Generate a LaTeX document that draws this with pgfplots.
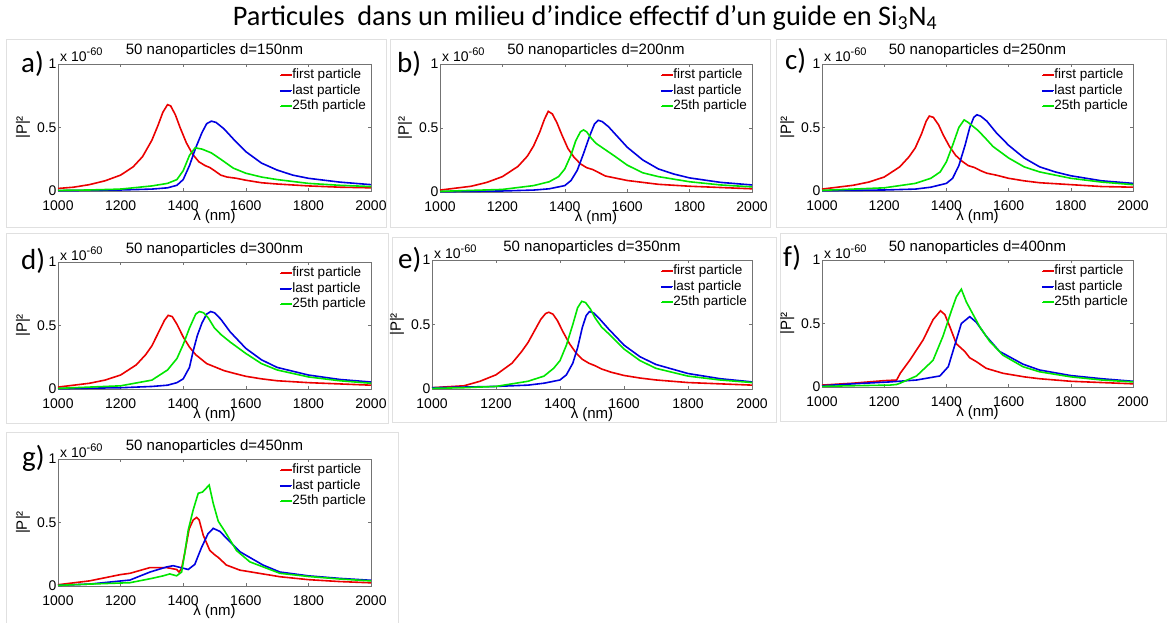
\documentclass[border=0pt]{standalone}
\usepackage{pgfplots}
\pgfplotsset{compat=1.18}
\usepackage{fontspec}
\setmainfont{Liberation Sans}
\newfontfamily\carlito{Carlito}
\definecolor{mred}{RGB}{235,0,0}
\definecolor{mblue}{RGB}{0,0,225}
\definecolor{mgreen}{RGB}{0,230,0}
\newcommand{\tf}{\fontsize{14}{14}\selectfont}
\newcommand{\lf}{\fontsize{13.5}{13.5}\selectfont}
\newcommand{\af}{\fontsize{15}{15}\selectfont}
\pgfplotsset{
 panel/.style={
  scale only axis, clip=false, anchor=north west,
  xmin=1000, xmax=2000, ymin=0, ymax=1,
  xtick={1000,1200,1400,1600,1800,2000},
  xticklabels={1000,1200,1400,1600,1800,2000},
  ytick={0,0.5,1}, yticklabels={0,0.5,1},
  /pgf/number format/assume math mode=true,
  tick align=inside, major tick length=3pt,
  axis line style={black!55, line width=0.5pt},
  tick style={black!55, line width=0.5pt},
  ticklabel style={font=\tf},
  xticklabel style={yshift=-6pt},
  yticklabel style={xshift=2pt},
  xlabel={λ (nm)},
  xlabel style={font=\af, at={(rel axis cs:0.5,0)}, anchor=center, yshift=-26pt},
  title style={font=\af, at={(rel axis cs:0.5,1)}, anchor=base, yshift=3pt},
  legend style={at={(rel axis cs:1,1)}, anchor=north east, xshift=-5pt, yshift=-5pt,
    draw=none, fill=none, font=\lf, inner sep=0pt, row sep=3pt,
    nodes={inner sep=0pt, text height=9.5pt, text depth=3pt}},
  legend cell align=left,
  legend image code/.code={\path (0pt,0pt) -- (11.5pt,0pt);},
 },
 ann/.style={
  extra description/.code={
   \node[anchor=base west, inner sep=0pt, font=\tf] at (rel axis cs:0,1) [xshift=2pt, yshift=2pt] {x 10\raisebox{6pt}{\fontsize{11}{11}\selectfont -60}};
  }
 },
 pr/.style={mred, line width=1.6pt},
 pb/.style={mblue, line width=1.6pt},
 pg/.style={mgreen, line width=1.6pt},
}
\newcommand{\ylab}[1]{\node[rotate=90, font=\af, inner sep=0pt] at (axis cs:#1,0.5) {|P|²};}
% legend keys, drawn at the legend's rows
\newcommand{\keys}{%
 \draw[mred, line width=1.6pt] ([xshift=-90pt,yshift=-11pt]rel axis cs:1,1) -- ++(11pt,0pt);
 \draw[mblue, line width=1.6pt] ([xshift=-90pt,yshift=-26.5pt]rel axis cs:1,1) -- ++(11pt,0pt);
 \draw[mgreen, line width=1.6pt] ([xshift=-90pt,yshift=-42pt]rel axis cs:1,1) -- ++(11pt,0pt);}
\begin{document}
\begin{tikzpicture}
\useasboundingbox (0pt,0pt) rectangle (1170pt,-623pt);
\fill[white] (0pt,0pt) rectangle (1170pt,-623pt);
% panel frames
\begin{scope}[draw=black!12, line width=0.8pt]
\draw (6pt,-39pt) rectangle (386pt,-227pt);
\draw (390pt,-39pt) rectangle (770pt,-227pt);
\draw (776pt,-39pt) rectangle (1166pt,-227pt);
\draw (6pt,-233pt) rectangle (388pt,-423pt);
\draw (392pt,-237pt) rectangle (776pt,-422pt);
\draw (780pt,-233pt) rectangle (1166pt,-421pt);
\draw (6pt,-432pt) rectangle (398pt,-623pt);
\end{scope}
\node[font=\carlito\fontsize{28.3}{28.3}\selectfont, anchor=center] at (585pt,-18pt) {Particules\ \ dans un milieu d’indice effectif d’un guide en Si\textsubscript{3}N\textsubscript{4}};
% panel letters
\begin{scope}[every node/.style={font=\carlito\fontsize{29}{29}\selectfont, anchor=base west, inner sep=0pt}]
\node at (21pt,-73pt) {a)};
\node at (397pt,-73pt) {b)};
\node at (785pt,-70pt) {c)};
\node at (21pt,-269pt) {d)};
\node at (398pt,-268pt) {e)};
\node at (783pt,-266pt) {f)};
\node at (22pt,-466pt) {g)};
\end{scope}

% ---------- a ----------
\begin{axis}[panel, ann, at={(58pt,-64pt)}, width=313pt, height=127pt, title={50 nanoparticles d=150nm}]
\addplot[pr] coordinates {(1000,0.02) (1050,0.03) (1100,0.05) (1150,0.08) (1200,0.125) (1240,0.19) (1270,0.27) (1300,0.4) (1320,0.52) (1335,0.62) (1350,0.68) (1360,0.67) (1375,0.6) (1390,0.5) (1410,0.38) (1430,0.29) (1450,0.23) (1470,0.2) (1485,0.185) (1500,0.16) (1520,0.125) (1540,0.11) (1570,0.1) (1600,0.085) (1650,0.065) (1700,0.055) (1800,0.04) (1900,0.03) (2000,0.025)};
\addplot[pb] coordinates {(1000,0.003) (1100,0.005) (1200,0.008) (1300,0.015) (1350,0.025) (1380,0.045) (1400,0.09) (1420,0.2) (1440,0.34) (1460,0.46) (1475,0.53) (1490,0.55) (1505,0.54) (1530,0.49) (1560,0.41) (1600,0.31) (1650,0.22) (1700,0.165) (1750,0.125) (1800,0.1) (1900,0.07) (2000,0.05)};
\addplot[pg] coordinates {(1000,0.005) (1100,0.008) (1200,0.015) (1300,0.04) (1350,0.06) (1380,0.09) (1400,0.16) (1420,0.28) (1438,0.34) (1460,0.33) (1490,0.3) (1520,0.25) (1560,0.18) (1600,0.14) (1650,0.11) (1700,0.09) (1800,0.06) (1900,0.045) (2000,0.035)};
\legend{first particle, last particle, 25th particle}
\keys
\ylab{888}
\end{axis}

% ---------- b ----------
\begin{axis}[panel, ann, at={(440pt,-64pt)}, width=312pt, height=128pt, title={50 nanoparticles d=200nm}]
\addplot[pr] coordinates {(1000,0.015) (1100,0.045) (1150,0.075) (1200,0.12) (1250,0.2) (1280,0.28) (1300,0.36) (1320,0.47) (1335,0.57) (1347,0.63) (1360,0.61) (1375,0.54) (1390,0.45) (1410,0.34) (1430,0.27) (1450,0.22) (1470,0.19) (1490,0.175) (1510,0.15) (1530,0.125) (1560,0.11) (1600,0.09) (1650,0.075) (1700,0.06) (1800,0.045) (1900,0.035) (2000,0.025)};
\addplot[pb] coordinates {(1000,0.003) (1200,0.008) (1300,0.015) (1350,0.025) (1400,0.05) (1420,0.09) (1440,0.17) (1460,0.3) (1480,0.44) (1495,0.53) (1507,0.56) (1520,0.55) (1540,0.51) (1570,0.43) (1600,0.35) (1650,0.25) (1700,0.18) (1750,0.14) (1800,0.11) (1900,0.075) (2000,0.055)};
\addplot[pg] coordinates {(1000,0.005) (1200,0.02) (1300,0.05) (1350,0.08) (1380,0.12) (1400,0.18) (1420,0.29) (1435,0.4) (1450,0.47) (1460,0.485) (1470,0.47) (1485,0.42) (1500,0.38) (1530,0.33) (1560,0.28) (1600,0.21) (1650,0.15) (1700,0.12) (1800,0.08) (1900,0.055) (2000,0.04)};
\legend{first particle, last particle, 25th particle}
\keys
\ylab{888}
\end{axis}

% ---------- c ----------
\begin{axis}[panel, ann, at={(822pt,-64pt)}, width=311pt, height=127pt, title={50 nanoparticles d=250nm}]
\addplot[pr] coordinates {(1000,0.015) (1100,0.045) (1150,0.07) (1200,0.11) (1250,0.19) (1280,0.27) (1300,0.34) (1320,0.45) (1335,0.55) (1345,0.59) (1358,0.58) (1375,0.52) (1390,0.44) (1410,0.35) (1430,0.28) (1450,0.235) (1470,0.2) (1490,0.185) (1510,0.16) (1530,0.14) (1560,0.125) (1600,0.1) (1650,0.08) (1700,0.065) (1800,0.05) (1900,0.035) (2000,0.03)};
\addplot[pb] coordinates {(1000,0.003) (1200,0.008) (1300,0.015) (1350,0.03) (1400,0.06) (1420,0.1) (1440,0.2) (1460,0.36) (1475,0.5) (1488,0.58) (1498,0.6) (1510,0.59) (1530,0.55) (1560,0.46) (1600,0.36) (1650,0.26) (1700,0.19) (1750,0.15) (1800,0.12) (1900,0.08) (2000,0.06)};
\addplot[pg] coordinates {(1000,0.005) (1200,0.025) (1300,0.06) (1350,0.1) (1380,0.15) (1400,0.23) (1420,0.36) (1440,0.5) (1457,0.56) (1470,0.54) (1485,0.51) (1500,0.48) (1520,0.43) (1550,0.35) (1600,0.26) (1650,0.19) (1700,0.15) (1800,0.1) (1900,0.07) (2000,0.05)};
\legend{first particle, last particle, 25th particle}
\keys
\ylab{888}
\end{axis}

% ---------- d ----------
\begin{axis}[panel, ann, at={(58pt,-262pt)}, width=313pt, height=127pt, title={50 nanoparticles d=300nm}]
\addplot[pr] coordinates {(1000,0.015) (1100,0.045) (1150,0.07) (1200,0.11) (1250,0.19) (1280,0.27) (1300,0.34) (1320,0.44) (1340,0.54) (1352,0.58) (1365,0.57) (1380,0.51) (1400,0.41) (1420,0.33) (1440,0.27) (1460,0.23) (1475,0.2) (1490,0.185) (1510,0.165) (1530,0.145) (1560,0.125) (1600,0.1) (1650,0.08) (1700,0.065) (1800,0.05) (1900,0.04) (2000,0.03)};
\addplot[pb] coordinates {(1000,0.003) (1200,0.01) (1300,0.02) (1350,0.03) (1380,0.05) (1400,0.08) (1420,0.17) (1432,0.3) (1445,0.42) (1460,0.52) (1475,0.59) (1488,0.61) (1500,0.6) (1520,0.55) (1550,0.45) (1600,0.32) (1650,0.23) (1700,0.17) (1800,0.11) (1900,0.075) (2000,0.055)};
\addplot[pg] coordinates {(1000,0.005) (1200,0.025) (1300,0.07) (1350,0.15) (1380,0.24) (1400,0.35) (1420,0.48) (1440,0.59) (1452,0.61) (1465,0.6) (1480,0.56) (1500,0.48) (1520,0.43) (1550,0.37) (1600,0.28) (1650,0.2) (1700,0.15) (1800,0.095) (1900,0.065) (2000,0.045)};
\legend{first particle, last particle, 25th particle}
\keys
\ylab{888}
\end{axis}

% ---------- e ----------
\begin{axis}[panel, ann, at={(432pt,-260pt)}, width=320pt, height=129pt, title={50 nanoparticles d=350nm}]
\addplot[pr] coordinates {(1000,0.01) (1100,0.025) (1150,0.06) (1200,0.11) (1250,0.2) (1280,0.29) (1300,0.36) (1320,0.45) (1340,0.54) (1355,0.585) (1365,0.595) (1378,0.58) (1392,0.53) (1410,0.44) (1430,0.35) (1450,0.28) (1470,0.23) (1490,0.2) (1510,0.18) (1530,0.155) (1560,0.13) (1600,0.105) (1650,0.085) (1700,0.07) (1800,0.05) (1900,0.04) (2000,0.03)};
\addplot[pb] coordinates {(1000,0.01) (1200,0.02) (1300,0.03) (1350,0.045) (1400,0.07) (1420,0.11) (1440,0.2) (1455,0.32) (1470,0.48) (1482,0.57) (1492,0.6) (1505,0.59) (1525,0.54) (1550,0.47) (1600,0.34) (1650,0.25) (1700,0.19) (1800,0.12) (1900,0.08) (2000,0.055)};
\addplot[pg] coordinates {(1000,0.005) (1100,0.01) (1200,0.02) (1300,0.06) (1350,0.1) (1380,0.16) (1400,0.22) (1420,0.34) (1440,0.5) (1455,0.63) (1468,0.68) (1480,0.67) (1495,0.62) (1510,0.55) (1530,0.48) (1560,0.41) (1600,0.31) (1650,0.22) (1700,0.16) (1800,0.1) (1900,0.07) (2000,0.05)};
\legend{first particle, last particle, 25th particle}
\keys
\ylab{891}
\end{axis}

% ---------- f ----------
\begin{axis}[panel, ann, at={(822pt,-260pt)}, width=311pt, height=127pt, title={50 nanoparticles d=400nm}]
\addplot[pr] coordinates {(1000,0.015) (1100,0.03) (1200,0.05) (1240,0.055) (1252,0.11) (1282,0.21) (1325,0.37) (1357,0.53) (1381,0.6) (1395,0.57) (1411,0.475) (1432,0.34) (1459,0.28) (1475,0.23) (1496,0.2) (1528,0.147) (1582,0.108) (1650,0.08) (1700,0.065) (1800,0.045) (1900,0.035) (2000,0.025)};
\addplot[pb] coordinates {(1000,0.01) (1100,0.025) (1218,0.04) (1304,0.055) (1379,0.087) (1406,0.16) (1427,0.33) (1448,0.5) (1475,0.554) (1496,0.51) (1528,0.4) (1571,0.28) (1646,0.18) (1699,0.134) (1800,0.09) (1900,0.065) (2000,0.045)};
\addplot[pg] coordinates {(1000,0.005) (1100,0.01) (1218,0.015) (1240,0.02) (1251,0.03) (1304,0.087) (1357,0.21) (1389,0.4) (1416,0.6) (1432,0.71) (1448,0.77) (1464,0.67) (1486,0.57) (1507,0.475) (1539,0.36) (1582,0.25) (1646,0.16) (1699,0.12) (1800,0.08) (1900,0.055) (2000,0.04)};
\legend{first particle, last particle, 25th particle}
\keys
\ylab{888}
\end{axis}

% ---------- g ----------
\begin{axis}[panel, ann, at={(58pt,-459pt)}, width=313pt, height=127pt, title={50 nanoparticles d=450nm}]
\addplot[pr] coordinates {(1000,0.01) (1100,0.04) (1200,0.09) (1230,0.1) (1294,0.145) (1347,0.145) (1379,0.13) (1387,0.11) (1395,0.14) (1405,0.26) (1419,0.45) (1432,0.52) (1443,0.54) (1451,0.52) (1464,0.4) (1485,0.28) (1501,0.245) (1512,0.225) (1538,0.165) (1581,0.125) (1709,0.073) (1800,0.05) (1900,0.035) (2000,0.025)};
\addplot[pb] coordinates {(1000,0.005) (1100,0.015) (1230,0.047) (1294,0.11) (1347,0.15) (1368,0.16) (1389,0.147) (1416,0.13) (1437,0.17) (1458,0.3) (1479,0.41) (1496,0.454) (1517,0.43) (1549,0.35) (1581,0.27) (1655,0.165) (1709,0.11) (1800,0.08) (1900,0.06) (2000,0.045)};
\addplot[pg] coordinates {(1000,0.005) (1100,0.015) (1230,0.026) (1300,0.06) (1336,0.08) (1357,0.095) (1379,0.08) (1395,0.11) (1405,0.26) (1416,0.44) (1432,0.6) (1448,0.73) (1462,0.74) (1483,0.795) (1496,0.65) (1512,0.51) (1533,0.43) (1570,0.28) (1613,0.19) (1709,0.1) (1800,0.075) (1900,0.055) (2000,0.04)};
\legend{first particle, last particle, 25th particle}
\keys
\ylab{888}
\end{axis}
\end{tikzpicture}
\end{document}
